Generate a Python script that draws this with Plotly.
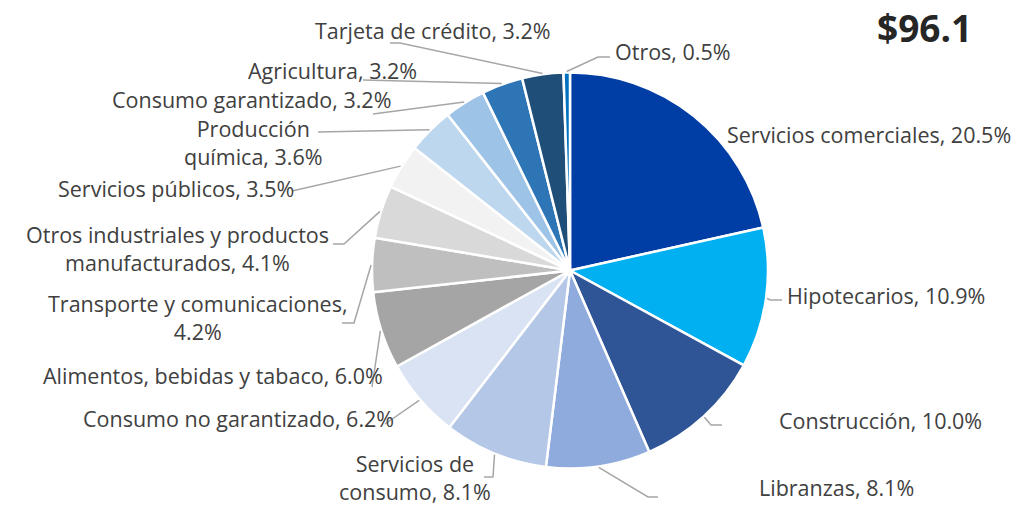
import math
import plotly.graph_objects as go

# ---------------- data ----------------
categories = [
    "Servicios comerciales", "Hipotecarios", "Construcción", "Libranzas",
    "Servicios de consumo", "Consumo no garantizado", "Alimentos, bebidas y tabaco",
    "Transporte y comunicaciones", "Otros industriales y productos manufacturados",
    "Servicios públicos", "Producción química", "Consumo garantizado",
    "Agricultura", "Tarjeta de crédito", "Otros",
]
values = [20.5, 10.9, 10.0, 8.1, 8.1, 6.2, 6.0, 4.2, 4.1, 3.5, 3.6, 3.2, 3.2, 3.2, 0.5]
label_texts = [
    "Servicios comerciales, 20.5%", "Hipotecarios, 10.9%", "Construcción, 10.0%",
    "Libranzas, 8.1%", "Servicios de<br>consumo, 8.1%", "Consumo no garantizado, 6.2%",
    "Alimentos, bebidas y tabaco, 6.0%", "Transporte y comunicaciones,<br>4.2%",
    "Otros industriales y productos<br>manufacturados, 4.1%", "Servicios públicos, 3.5%",
    "Producción<br>química, 3.6%", "Consumo garantizado, 3.2%", "Agricultura, 3.2%",
    "Tarjeta de crédito, 3.2%", "Otros, 0.5%",
]
total_label = "$96.1"

# ---------------- style / layout ----------------
colors = ["#003DA5", "#00B0F0", "#2F5597", "#8FAADC", "#B4C7E7", "#DAE3F3",
          "#A5A5A5", "#BFBFBF", "#D9D9D9", "#F2F2F2", "#BDD7EE", "#9DC3E6",
          "#2E75B6", "#1F4E79", "#0070C0"]

W, H = 1028, 507
CX, CY, R = 570, 270.5, 198

# label anchor (px), xanchor, and leader path points after slice edge (px)
label_layout = [
    ((726, 134), "left", []),
    ((786, 295), "left", [(770, 300), (782, 300)]),
    ((778, 420), "left", [(711, 425), (722, 425)]),
    ((758, 487), "left", [(648, 497), (658, 497)]),
    ((415, 477), "center", [(493, 477), (484, 477)]),
    ((395, 418), "right", [(385, 424)]),
    ((384, 375), "right", [(372, 387)]),
    ((197, 317), "center", [(354, 323), (342, 323)]),
    ((177, 248), "center", [(344, 244), (333, 244)]),
    ((295, 188), "right", [(292, 191)]),
    ((253, 142), "center", [(318, 132)]),
    ((392, 99), "right", [(373, 114)]),
    ((418, 70), "right", [(363, 80)]),
    ((552, 31), "right", [(400, 43), (390, 43)]),
    ((614, 52), "left", [(598, 57), (610, 57)]),
]

FONT = "Open Sans"
FSIZE = 21.5
TXT = "#404040"


def px(x):
    return x / W


def py(y):
    return 1 - y / H


fig = go.Figure()
fig.add_trace(go.Pie(
    labels=categories, values=values, sort=False, direction="clockwise",
    rotation=0, textinfo="none", hoverinfo="label+percent",
    marker=dict(colors=colors, line=dict(color="white", width=2.5)),
    domain=dict(x=[px(CX - R), px(CX + R)], y=[py(CY + R), py(CY - R)]),
    showlegend=False,
))

# mid angles of slices computed from data (clockwise from 12 o'clock)
tot = sum(values)
cum = 0.0
shapes = []
annotations = []
for i, v in enumerate(values):
    mid = (cum + v / 2) / tot * 2 * math.pi
    cum += v
    sx = CX + (R + 1) * math.sin(mid)
    sy = CY - (R + 1) * math.cos(mid)
    (lx, ly), xa, pts = label_layout[i]
    if pts:
        path_pts = [(sx, sy)] + pts
        d = "M " + " L ".join(f"{px(x):.5f},{py(y):.5f}" for x, y in path_pts)
        shapes.append(dict(type="path", path=d, xref="paper", yref="paper",
                           line=dict(color="#A6A6A6", width=1.5)))
    annotations.append(dict(
        x=px(lx), y=py(ly), xref="paper", yref="paper", text=label_texts[i],
        showarrow=False, xanchor=xa, yanchor="middle", align="center",
        borderpad=0,
        font=dict(family=FONT, size=FSIZE, color=TXT),
    ))

annotations.append(dict(
    x=px(924.5), y=py(27), xref="paper", yref="paper", text=f"<b>{total_label}</b>",
    showarrow=False, xanchor="center", yanchor="middle", borderpad=0,
    font=dict(family="Open Sans", size=37, color="#262626"),
))

fig.update_layout(
    width=W, height=H, margin=dict(l=0, r=0, t=0, b=0),
    paper_bgcolor="white", plot_bgcolor="white",
    shapes=shapes, annotations=annotations,
)

fig.write_html(
    "out.html",
    config={"displayModeBar": False},
    post_script="document.body.style.margin='0px';document.body.style.overflow='hidden';",
)
